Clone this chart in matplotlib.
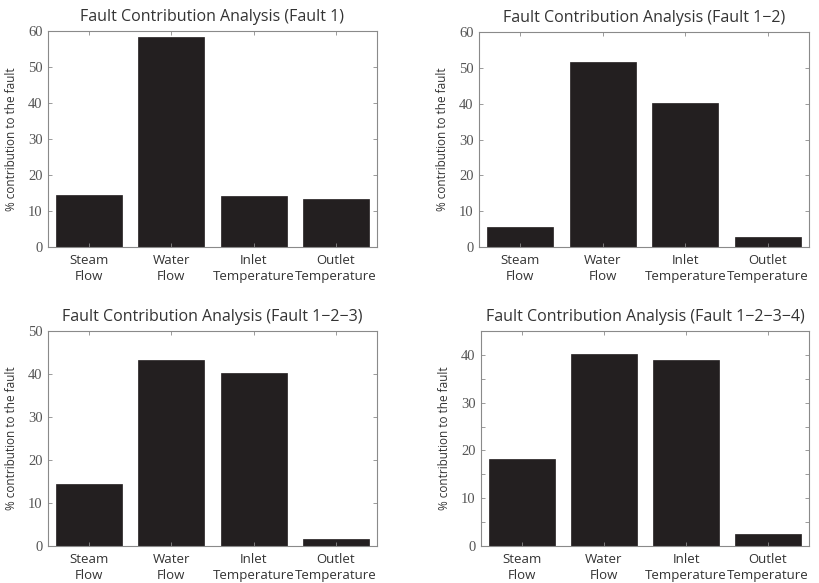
import matplotlib
matplotlib.use("Agg")
import matplotlib.pyplot as plt
import numpy as np

categories = ["Steam\nFlow", "Water\nFlow", "Inlet\nTemperature", "Outlet\nTemperature"]

fault_1 = [14.4, 58.3, 14.2, 13.3]
fault_12 = [5.6, 51.7, 40.1, 2.7]
fault_123 = [14.5, 43.2, 40.2, 1.7]
fault_1234 = [18.1, 40.1, 39.0, 2.6]

titles = ["Fault Contribution Analysis (Fault 1)",
          "Fault Contribution Analysis (Fault 1\u22122)",
          "Fault Contribution Analysis (Fault 1\u22122\u22123)",
          "Fault Contribution Analysis (Fault 1\u22122\u22123\u22124)"]

ylims = [60, 60, 50, 45]

txt = "#333333"
frame = "#8a8a8a"

fig = plt.figure(figsize=(8.19, 5.83), dpi=100)

# axes boxes [left, bottom, width, height]
boxes = [[0.0586, 0.5763, 0.4017, 0.3705],
         [0.5849, 0.5763, 0.4029, 0.3688],
         [0.0586, 0.0635, 0.4017, 0.3688],
         [0.5873, 0.0635, 0.4005, 0.3688]]

data = [fault_1, fault_12, fault_123, fault_1234]
x = np.arange(1, 5)

for i in range(4):
    ax = fig.add_axes(boxes[i])
    ax.bar(x, data[i], width=0.8, color="#231f20", edgecolor="#231f20", linewidth=0.5)
    ax.set_xlim(0.5, 4.5)
    ax.set_ylim(0, ylims[i])
    ax.set_xticks(x)
    ax.set_xticklabels(categories, fontsize=9.5, family="Open Sans", color=txt, linespacing=1.35)
    if i == 3:
        ax.set_yticks(np.arange(0, 45, 5))
        ax.set_yticklabels([str(v) if v % 10 == 0 else "" for v in range(0, 45, 5)])
    else:
        ax.set_yticks(np.arange(0, ylims[i] + 1, 10))
    for lab in ax.get_yticklabels():
        lab.set_family("Liberation Serif")
        lab.set_fontsize(10.5)
        lab.set_color("#555555")
    ax.tick_params(direction="in", length=3, width=0.6, color=frame,
                   top=True, right=True, pad=4)
    ax.tick_params(axis="x", pad=5)
    for s in ax.spines.values():
        s.set_color(frame)
        s.set_linewidth(0.8)
    ax.set_ylabel("% contribution to the fault", fontsize=8.5, family="Open Sans", color=txt, labelpad=7)
    ax.set_title(titles[i], fontsize=11.5, family="Open Sans", color=txt, pad=7)

plt.savefig("out.png", dpi=100)
plt.close()
